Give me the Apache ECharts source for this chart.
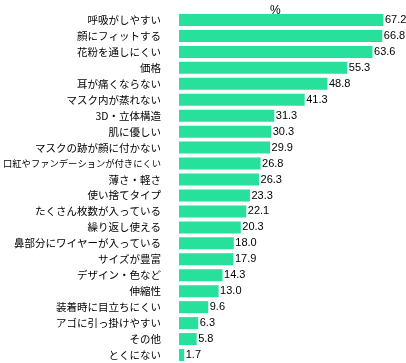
<!DOCTYPE html>
<html><head><meta charset="utf-8">
<script src="https://cdn.jsdelivr.net/npm/echarts@6/dist/echarts.min.js"></script>
<style>html,body{margin:0;padding:0;background:#fff}#c{width:406px;height:363px}</style>
</head><body><div id="c"></div>
<script>
const categories = ["呼吸がしやすい","顔にフィットする","花粉を通しにくい","価格","耳が痛くならない","マスク内が蒸れない","3D・立体構造","肌に優しい","マスクの跡が顔に付かない","口紅やファンデーションが付きにくい","薄さ・軽さ","使い捨てタイプ","たくさん枚数が入っている","繰り返し使える","鼻部分にワイヤーが入っている","サイズが豊富","デザイン・色など","伸縮性","装着時に目立ちにくい","アゴに引っ掛けやすい","その他","とくにない"];
const values = [67.2,66.8,63.6,55.3,48.8,41.3,31.3,30.3,29.9,26.8,26.3,23.3,22.1,20.3,18.0,17.9,14.3,13.0,9.6,6.3,5.8,1.7];
const unitLabel = "%";
const chart = echarts.init(document.getElementById('c'));
const jp = '"Noto Sans CJK JP", sans-serif';
chart.setOption({
  animation: false,
  title: { text: unitLabel, left: 265, top: 0, textStyle: { fontSize: 12, fontWeight: 'normal', color: '#000', fontFamily: '"Liberation Sans", sans-serif' } },
  grid: { left: 176, top: 12, width: 216, height: 352 },
  xAxis: { type: 'value', min: 0, max: 70, show: false },
  yAxis: {
    type: 'category', data: categories, inverse: true,
    axisLine: { show: false }, axisTick: { show: false },
    axisLabel: {
      margin: 18, color: '#000', fontSize: 10.5, fontFamily: jp,
      formatter: v => v.length > 14 ? '{s|' + v + '}' : v,
      rich: { s: { fontSize: 9.3, fontFamily: jp, color: '#000' } }
    }
  },
  series: [{
    type: 'bar', data: values, barWidth: 12,
    itemStyle: { color: '#26e09b' },
    label: { show: true, position: 'right', distance: 1.5, color: '#000', fontSize: 11, fontFamily: '"Liberation Sans", sans-serif', formatter: p => p.value.toFixed(1) }
  }]
});
</script></body></html>
